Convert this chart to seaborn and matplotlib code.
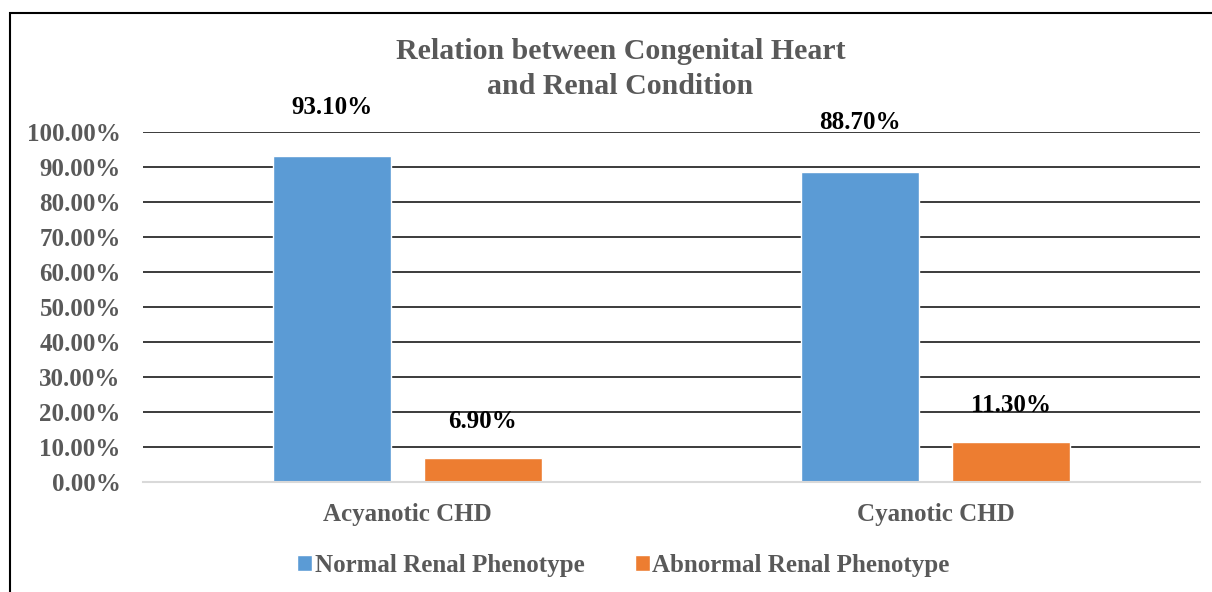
"""Relation between congenital heart type and renal phenotype"""

import pandas as pd
import seaborn as sns
import matplotlib.pyplot as plt
from matplotlib.patches import Rectangle
from matplotlib.ticker import PercentFormatter

categories = ['Acyanotic CHD', 'Cyanotic CHD']
series = ['Normal Renal Phenotype', 'Abnormal Renal Phenotype']
normal = [93.10, 88.70]
abnormal = [6.90, 11.30]
colors = ['#5B9BD5', '#ED7D31']

data = pd.DataFrame({
    'group': categories * 2,
    'phenotype': [series[0]] * 2 + [series[1]] * 2,
    'value': normal + abnormal,
})

sns.set_style('white')
plt.rcParams['font.family'] = ['Liberation Serif', 'DejaVu Serif']
plt.rcParams['font.weight'] = 'bold'

fig = plt.figure(figsize=(12.12, 5.92), dpi=100)
ax = fig.add_axes([0.118, 0.1858, 0.872, 0.5912])

sns.barplot(data=data, x='group', y='value', hue='phenotype',
            palette=colors, saturation=1, width=0.572, gap=0.22, ax=ax,
            legend=True)

ax.set_ylim(0, 100)
ax.set_yticks(range(0, 101, 10))
ax.yaxis.set_major_formatter(PercentFormatter(decimals=2))
ax.grid(axis='y', color='#1a1a1a', linewidth=1.2)
ax.set_axisbelow(True)
for side in ['left', 'right', 'top']:
    ax.spines[side].set_visible(False)
ax.spines['bottom'].set_color('#d9d9d9')
ax.spines['bottom'].set_linewidth(1.5)
ax.tick_params(axis='both', length=0, labelsize=18, labelcolor='#595959')
ax.tick_params(axis='x', pad=15)
ax.tick_params(axis='y', pad=16)
ax.set_xlabel('')
ax.set_ylabel('')

# value labels sit high above the bars, as in the original
for container, pad in zip(ax.containers, [27, 18]):
    ax.bar_label(container, labels=[f'{v:.2f}%' for v in container.datavalues],
                 padding=pad, fontsize=18, fontweight='bold', color='black')

ax.legend(loc='upper center', bbox_to_anchor=(0.4546, -0.14), ncol=2,
          frameon=False, fontsize=18, handlelength=0.6, handleheight=0.6,
          handletextpad=0.1, columnspacing=2.0, labelcolor='#595959')

fig.suptitle('Relation between Congenital Heart\nand Renal Condition',
             x=0.512, y=0.935, fontsize=21.5, fontweight='bold', color='#595959',
             linespacing=1.35)

# outer chart frame, cut off on the right and bottom like the source
fig.add_artist(Rectangle((10 / 1212, -0.1), 1.2, (592 - 13) / 592 + 0.1,
                         transform=fig.transFigure, fill=False,
                         edgecolor='black', linewidth=1.5))

fig.savefig('out.png', dpi=100)
